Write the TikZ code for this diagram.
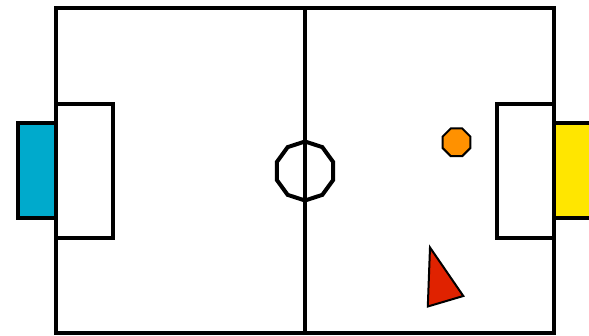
\documentclass[tikz,border=0pt]{standalone}
\usepackage{tikz}
\usetikzlibrary{shapes.geometric}

\definecolor{goalblue}{HTML}{00AACC}
\definecolor{goalyellow}{HTML}{FFE600}
\definecolor{ballorange}{HTML}{FF9100}
\definecolor{playerred}{HTML}{E02200}

\tikzset{
  fieldline/.style={line width=4pt, line join=miter},
  thinline/.style={line width=2pt, line join=miter}
}

\begin{document}
\begin{tikzpicture}[x=1pt, y=-1pt]
  % ==================== 画布 ====================
  \useasboundingbox (0,0) rectangle (589,336);
  \clip (0,0) rectangle (589,336);

  % 球门
  \draw[fieldline, fill=goalblue] (18,123) rectangle (56,218);
  \draw[fieldline, fill=goalyellow] (554,123) rectangle (600,218);

  % 场地边界与中线
  \draw[fieldline] (56,8) rectangle (554,333);
  \draw[fieldline] (305,8) -- (305,333);

  % 禁区
  \draw[fieldline] (56,104) rectangle (113,238);
  \draw[fieldline] (554,104) rectangle (497,238);

  % 中圈
  \node[fieldline, draw, regular polygon, regular polygon sides=10,
        shape border rotate=18, minimum size=59pt, inner sep=0pt] (centre) at (305,171) {};

  % 球
  \node[thinline, draw, fill=ballorange, regular polygon, regular polygon sides=8,
        minimum size=30pt, inner sep=0pt] (ball) at (456.5,142.3) {};

  % 球员
  \draw[thinline, fill=playerred] (430,247.5) -- (463.3,296) -- (427.8,306.5) -- cycle;
\end{tikzpicture}
\end{document}
